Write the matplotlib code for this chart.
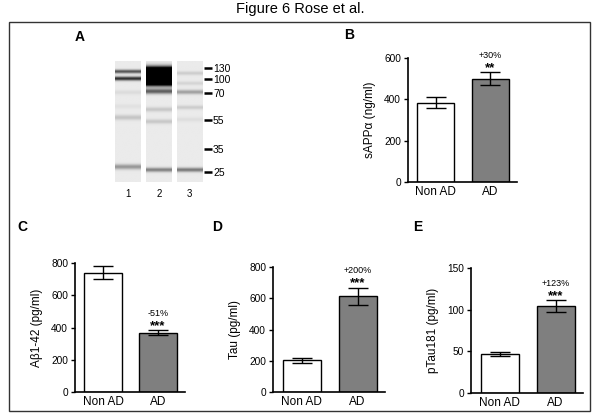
import matplotlib
matplotlib.use("Agg")
import matplotlib.pyplot as plt
import numpy as np
from matplotlib.patches import Rectangle

plt.rcParams["font.family"] = ["Liberation Sans", "DejaVu Sans"]

W, H = 600, 415

# --- data -------------------------------------------------------------
groups = ["Non AD", "AD"]

sapp_mean = [383, 500]
sapp_sem = [27, 30]
abeta_mean = [740, 368]
abeta_sem = [40, 15]
tau_mean = [203, 613]
tau_sem = [15, 53]
ptau_mean = [46.5, 104]
ptau_sem = [2.5, 7]

pct_labels = ["+30%", "-51%", "+200%", "+123%"]
star_labels = ["**", "***", "***", "***"]

# western blot: marker sizes (kDa) and their migration (0 = top of gel, 121 = bottom)
marker_kda = [130, 100, 70, 55, 35, 25]
marker_pos = [7.3, 18, 32, 59, 88, 110.7]
lane_names = ["1", "2", "3"]
# bands per lane: (migration, darkness, spread)
lane_bands = [
    [(11.3, 0.6, 1.3), (18.3, 0.75, 1.4), (32, 0.06, 1.5), (46, 0.04, 1.5),
     (57, 0.15, 1.8), (106, 0.33, 1.8)],
    [(11.5, 2.2, 3.2), (20, 2.6, 3.2), (31, 0.55, 1.8), (49, 0.14, 1.6),
     (61, 0.14, 1.6), (109, 0.42, 1.5)],
    [(13, 0.12, 1.3), (23, 0.09, 1.3), (31.7, 0.3, 1.5), (47, 0.12, 1.4),
     (59, 0.05, 1.6), (109, 0.45, 1.5)],
]


def box(l, t, r, b):
    return [l / W, 1 - b / H, (r - l) / W, (b - t) / H]


fig = plt.figure(figsize=(6, 4.15), dpi=100)

fig.text(0.5, 1 - 9 / H, "Figure 6 Rose et al.", ha="center", va="center", fontsize=10.5)
fig.patches.append(Rectangle((9 / W, 1 - 411 / H), 581 / W, 389 / H,
                             transform=fig.transFigure, fill=False,
                             edgecolor="#333333", linewidth=1.0))

# --- panel A: blot ----------------------------------------------------
axb = fig.add_axes(box(115, 61, 204, 182))
rows = np.linspace(0, 121, 484)
for i, bands in enumerate(lane_bands):
    dark = np.full_like(rows, 0.08)
    for pos, amp, sig in bands:
        dark += amp * np.exp(-0.5 * ((rows - pos) / sig) ** 2)
    # faint lighter seam inside the saturated lane 2 blob
    img = 1 - np.clip(dark, 0, 1)
    x0 = i * 31
    axb.imshow(img[:, None] * np.ones((1, 20)), cmap="gray", vmin=0, vmax=1,
               extent=(x0, x0 + 25.5, 121, 0), aspect="auto", interpolation="bilinear")
axb.set_xlim(0, 89)
axb.set_ylim(121, 0)
for s in axb.spines.values():
    s.set_visible(False)
axb.yaxis.tick_right()
axb.set_yticks(marker_pos)
axb.set_yticklabels([str(k) for k in marker_kda], fontsize=7.5)
axb.tick_params(axis="y", length=5.5, width=1.8, pad=1)
axb.set_xticks([i * 31 + 12.75 for i in range(3)])
axb.set_xticklabels(lane_names, fontsize=7)
axb.tick_params(axis="x", length=0, pad=5)


# --- bar panels -------------------------------------------------------
def bar_panel(rect, mean, sem, ymax, yticks, ylabel, pct, stars):
    ax = fig.add_axes(box(*rect))
    x = np.arange(len(groups))
    ax.bar(x, mean, width=0.68, color=["white", "#7f7f7f"], edgecolor="black",
           linewidth=1.0, zorder=2)
    ax.errorbar(x, mean, yerr=sem, fmt="none", ecolor="black", elinewidth=1.0,
                capsize=7, capthick=1.0, zorder=3)
    ax.set_xlim(-0.51, 1.49)
    ax.set_ylim(0, ymax)
    ax.set_yticks(yticks)
    ax.set_xticks(x)
    ax.set_xticklabels(groups, fontsize=8.5)
    ax.tick_params(axis="x", length=0, pad=3)
    ax.tick_params(axis="y", length=3, width=1.0, labelsize=7.3, pad=2)
    for side in ("top", "right"):
        ax.spines[side].set_visible(False)
    for side in ("left", "bottom"):
        ax.spines[side].set_linewidth(1.2)
    ax.set_ylabel(ylabel, fontsize=8.5, labelpad=6)
    top = mean[1] + sem[1]
    ax.annotate(stars, (1, top), xytext=(0, 1.0), textcoords="offset points",
                ha="center", va="baseline", fontsize=9.5, fontweight="bold",
                annotation_clip=False)
    ax.annotate(pct, (1, top), xytext=(0, 10.5), textcoords="offset points",
                ha="center", va="baseline", fontsize=6.5,
                annotation_clip=False)
    return ax


bar_panel((408, 58, 517, 182), sapp_mean, sapp_sem, 600, [0, 200, 400, 600],
          "sAPPα (ng/ml)", pct_labels[0], star_labels[0])
bar_panel((75, 263, 185, 392), abeta_mean, abeta_sem, 800, [0, 200, 400, 600, 800],
          "Aβ1-42 (pg/ml)", pct_labels[1], star_labels[1])
bar_panel((273, 267, 385, 392), tau_mean, tau_sem, 800, [0, 200, 400, 600, 800],
          "Tau (pg/ml)", pct_labels[2], star_labels[2])
bar_panel((471, 268, 583, 393), ptau_mean, ptau_sem, 150, [0, 50, 100, 150],
          "pTau181 (pg/ml)", pct_labels[3], star_labels[3])

# panel letters
for letter, (px, py) in zip("ABCDE", [(80, 37), (349, 35), (22, 227), (217, 227), (418, 227)]):
    fig.text(px / W, 1 - py / H, letter, ha="center", va="center",
             fontsize=10, fontweight="bold")

fig.savefig("out.png", dpi=100)
